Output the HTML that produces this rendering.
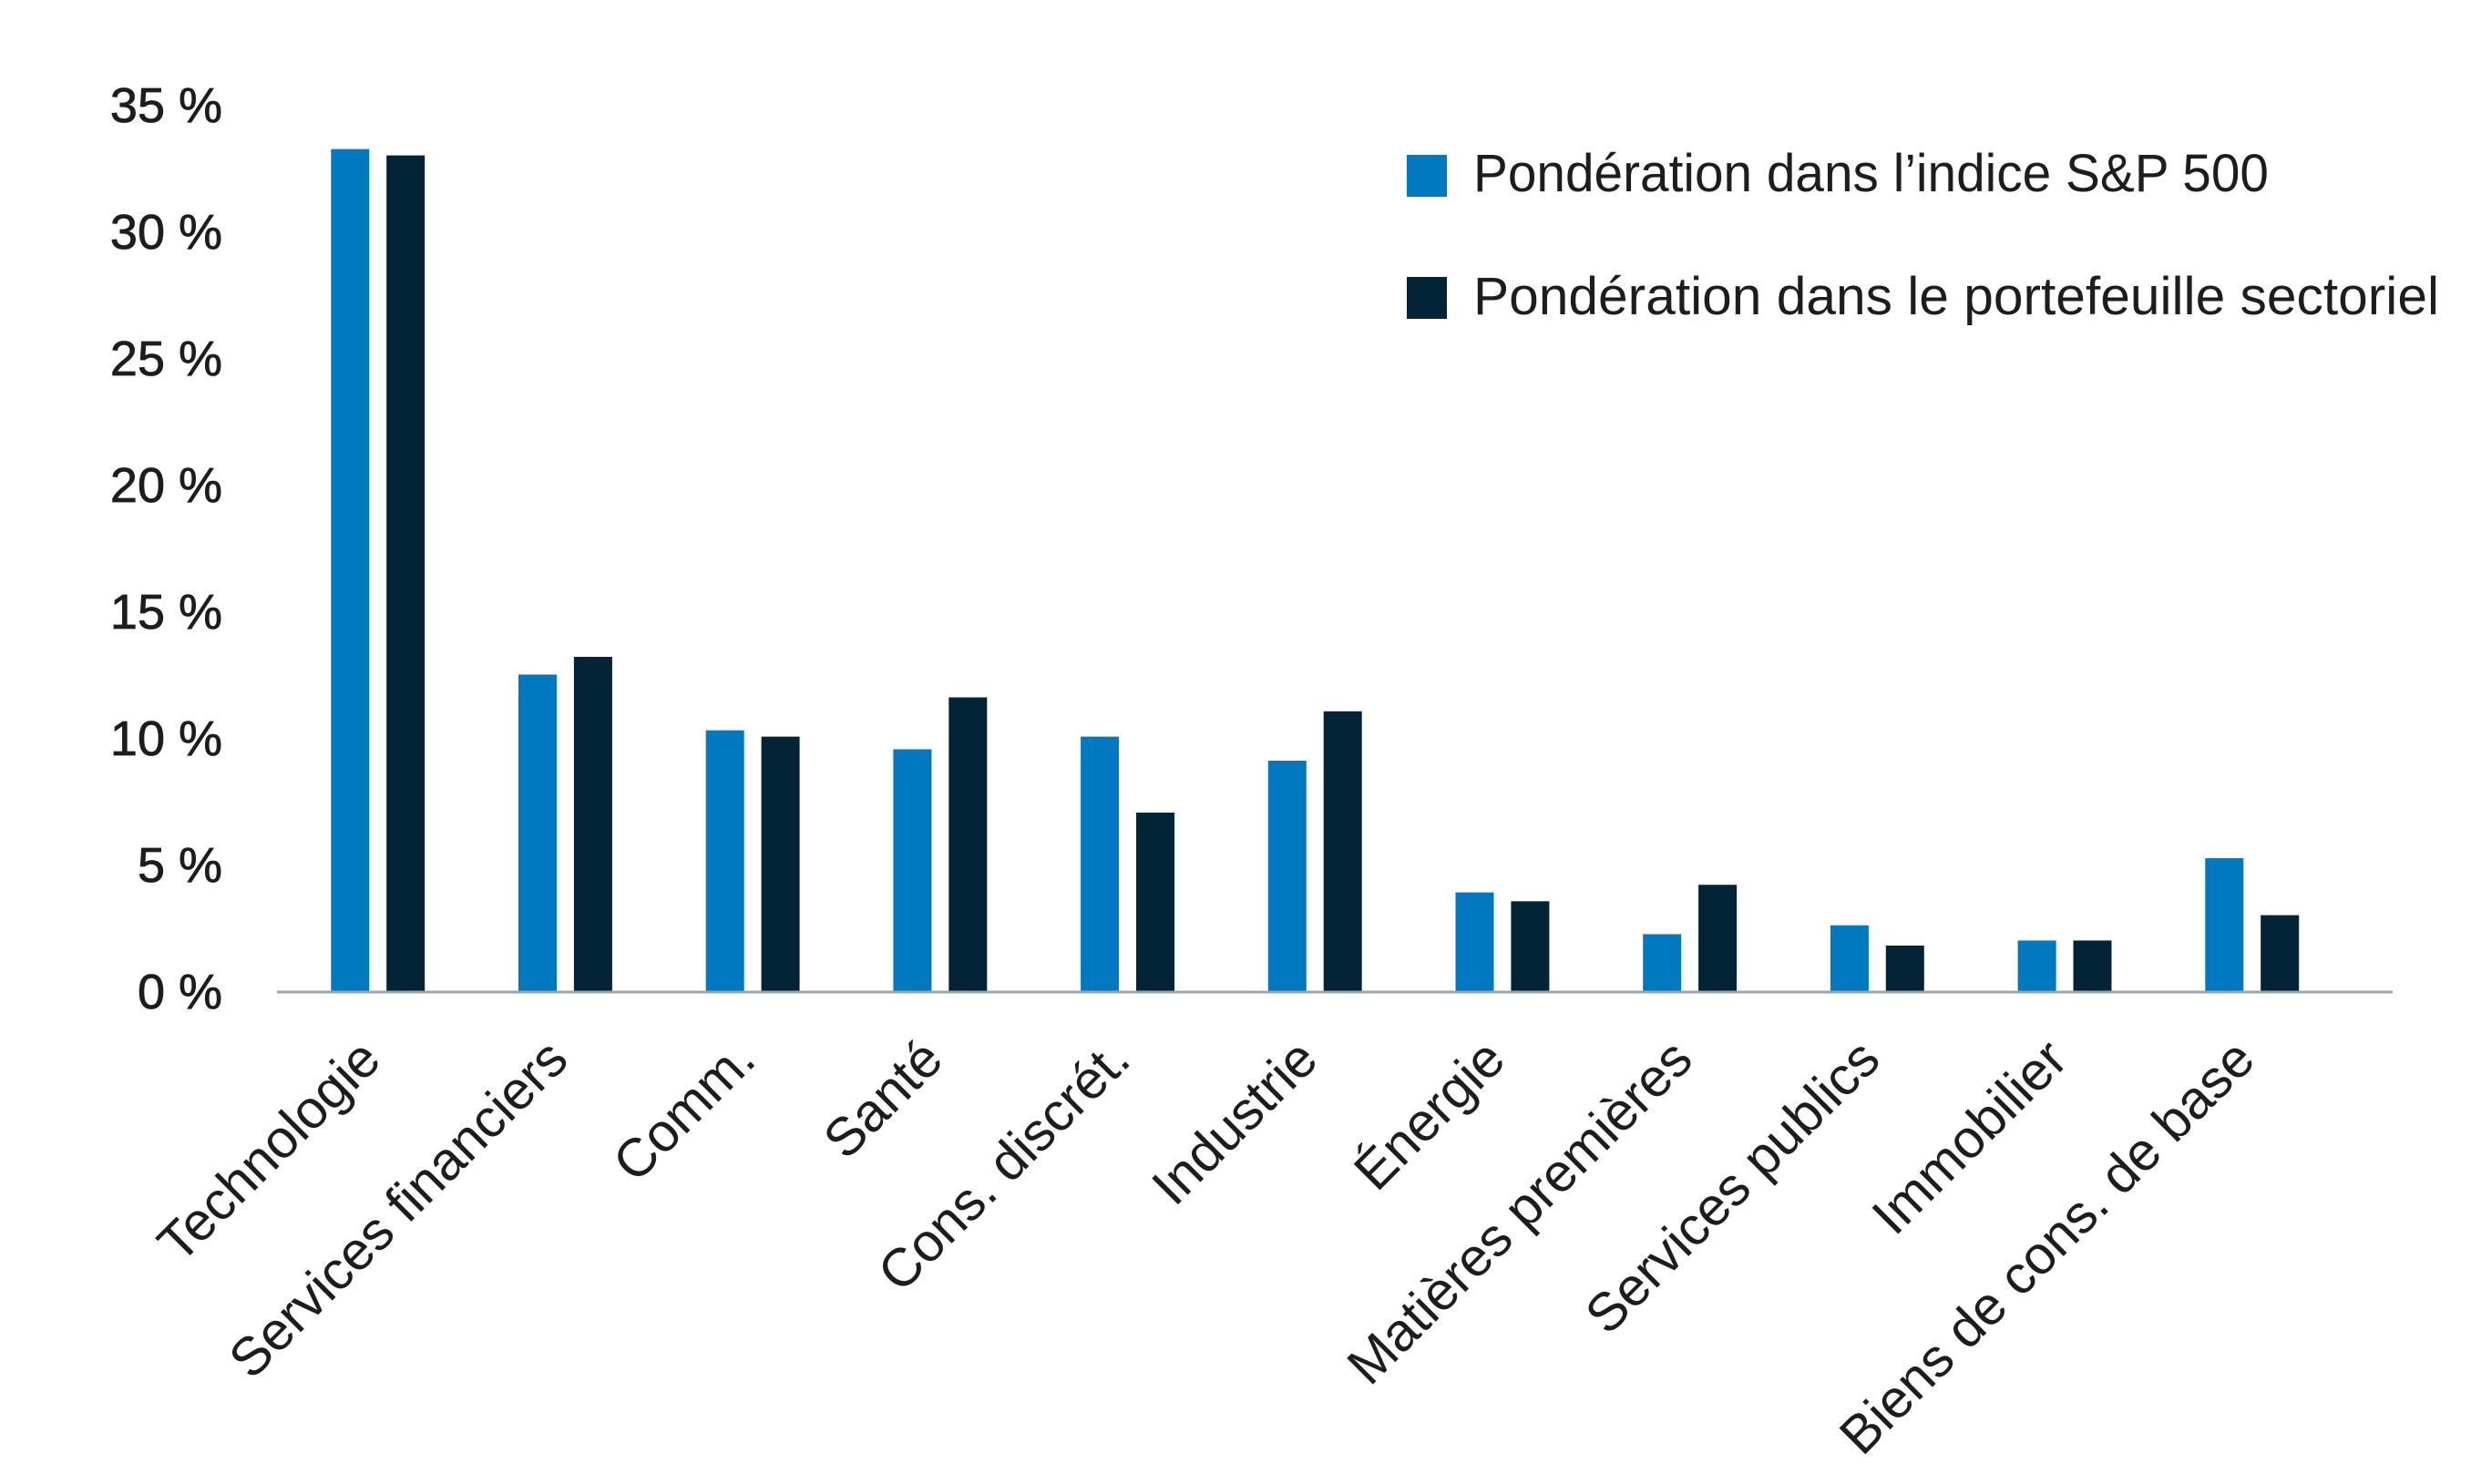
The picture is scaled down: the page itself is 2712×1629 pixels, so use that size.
<!DOCTYPE html>
<html><head><meta charset="utf-8">
<style>
html,body{margin:0;padding:0;background:#fff;}
svg{display:block;}
text{font-family:"Liberation Sans",sans-serif;fill:#1e1c1e;}
</style></head>
<body>
<svg id="chart" width="2712" height="1629" viewBox="0 0 2712 1629" xmlns="http://www.w3.org/2000/svg">
  <g id="yaxis"></g>
  <g id="bars"></g>
  <line x1="304" y1="1089" x2="2626" y2="1089" stroke="#9aa6ae" stroke-width="3"/>
  <g id="xlabels"></g>
  <g>
    <g>
      <rect x="1544" y="170" width="44" height="46" fill="#0079c1"/>
      <text x="1617" y="210" font-size="58" textLength="873" lengthAdjust="spacingAndGlyphs">Pondération dans l’indice S&amp;P 500</text>
    </g>
    <g>
      <rect x="1544" y="304" width="44" height="46" fill="#032436"/>
      <text x="1617" y="345" font-size="58" textLength="1060" lengthAdjust="spacingAndGlyphs">Pondération dans le portefeuille sectoriel</text>
    </g>
  </g>
</svg>
<script>
const categories = ["Technologie","Services financiers","Comm.","Santé","Cons. discrét.","Industrie","Énergie","Matières premières","Services publics","Immobilier","Biens de cons. de base"];
const sp500Values = [33.25,12.5,10.3,9.55,10.05,9.1,3.9,2.25,2.6,2.0,5.25];
const portfolioValues = [33.0,13.2,10.05,11.6,7.05,11.05,3.55,4.2,1.8,2.0,3.0];
const tickValues = [0,5,10,15,20,25,30,35];
const tickLabels = ["0 %","5 %","10 %","15 %","20 %","25 %","30 %","35 %"];

const NS = "http://www.w3.org/2000/svg";
const y0 = 1088, pxPer = 27.8;
function yScale(v){ return y0 - v*pxPer; }
function xCenter(i){ return 414.6 + i*205.7; }

const yaxis = document.getElementById('yaxis');
tickValues.forEach((v,i)=>{
  const t = document.createElementNS(NS,'text');
  
  
  t.setAttribute('x', 244);
  t.setAttribute('y', yScale(v)+19);
  t.setAttribute('text-anchor','end');
  t.setAttribute('font-size','54');
  t.setAttribute('stroke','#1e1c1e');
  t.setAttribute('stroke-width','0.8');
  t.textContent = tickLabels[i];
  yaxis.appendChild(t);
});

const bars = document.getElementById('bars');
const bw = 42;
categories.forEach((c,i)=>{
  const cx = xCenter(i);
  const b1 = document.createElementNS(NS,'rect');
  
  
  b1.setAttribute('x', cx-51.3);
  b1.setAttribute('y', yScale(sp500Values[i]));
  b1.setAttribute('width', bw);
  b1.setAttribute('height', y0 - yScale(sp500Values[i]));
  b1.setAttribute('fill','#0079c1');
  bars.appendChild(b1);
  const b2 = document.createElementNS(NS,'rect');
  
  
  b2.setAttribute('x', cx+9.6);
  b2.setAttribute('y', yScale(portfolioValues[i]));
  b2.setAttribute('width', bw);
  b2.setAttribute('height', y0 - yScale(portfolioValues[i]));
  b2.setAttribute('fill','#032436');
  bars.appendChild(b2);

  const t = document.createElementNS(NS,'text');
  
  
  const lx = cx + 6, ly = 1166;
  t.setAttribute('x', lx);
  t.setAttribute('y', ly);
  t.setAttribute('text-anchor','end');
  t.setAttribute('font-size','59');
  t.setAttribute('transform','rotate(-45 '+lx+' '+ly+')');
  t.textContent = c;
  document.getElementById('xlabels').appendChild(t);
});
</script>
</body></html>
